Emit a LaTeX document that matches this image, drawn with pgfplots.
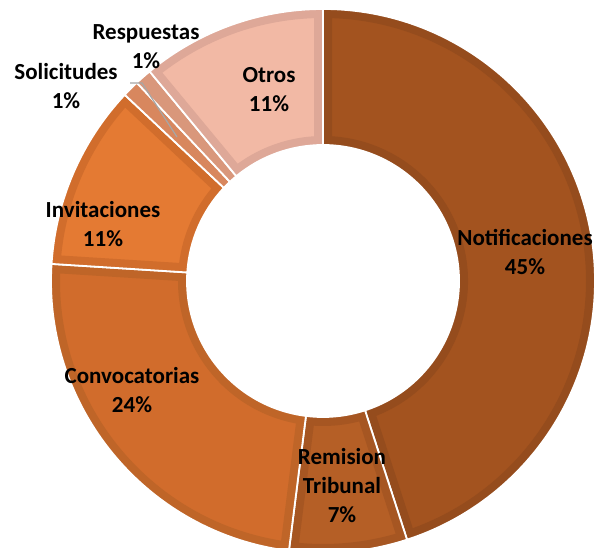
\documentclass[border=0pt]{standalone}
\usepackage{pgfplots}
\pgfplotsset{compat=1.18}
\usepackage{pgfplotstable}
\usepackage{fontspec}
\setmainfont{Carlito}

\definecolor{f0}{HTML}{A3531F} \definecolor{b0}{HTML}{954C1D}
\definecolor{f1}{HTML}{B55F26} \definecolor{b1}{HTML}{A65622}
\definecolor{f2}{HTML}{D16C2C} \definecolor{b2}{HTML}{BF6528}
\definecolor{f3}{HTML}{E47A33} \definecolor{b3}{HTML}{D16D2C}
\definecolor{f4}{HTML}{E08D60} \definecolor{b4}{HTML}{D8875E}
\definecolor{f5}{HTML}{E9A189} \definecolor{b5}{HTML}{D9977B}
\definecolor{f6}{HTML}{F2B9A5} \definecolor{b6}{HTML}{DEA898}

\pgfplotstableread{
label value
Notificaciones 45
Remision 7
Convocatorias 24
Invitaciones 11
Solicitudes 1
Respuestas 1
Otros 11
}\datatable

\def\cx{323}\def\cy{267}\def\Ro{272}\def\Ri{136}
\tikzset{slicepath/.style={insert path={([shift={(\sa:\Ro pt)}]C) arc[start angle=\sa,end angle=\ea,radius=\Ro pt] -- ([shift={(\ea:\Ri pt)}]C) arc[start angle=\ea,end angle=\sa,radius=\Ri pt] -- cycle}}}
\tikzset{lab/.style={align=center,font=\bfseries\fontsize{23}{29}\selectfont,text=black}}

\begin{document}
\begin{tikzpicture}
\begin{axis}[x=1pt,y=1pt,xmin=0,xmax=608,ymin=0,ymax=548,hide axis,clip=true]
\pgfplotsextra{
  \coordinate (C) at (axis cs:\cx,\cy);
  \gdef\cum{0}
  \pgfplotstableforeachcolumnelement{value}\of\datatable\as\v{%
    \pgfmathsetmacro\sa{90-3.6*\cum}%
    \pgfmathsetmacro\ea{90-3.6*(\cum+\v)}%
    \begin{scope}
      \clip[slicepath];
      \fill[fill=f\pgfplotstablerow,slicepath];
      \draw[draw=b\pgfplotstablerow,line width=18pt,slicepath];
    \end{scope}
    \draw[white,line width=1.8pt,slicepath];
    \pgfmathsetmacro\newcum{\cum+\v}%
    \xdef\cum{\newcum}%
  }
  \draw[black!35,line width=1.2pt] (axis cs:130,465) -- (axis cs:142,465) -- (axis cs:177,411);
}
\node[lab] at (axis cs:525,296) {Notificaciones\\45\%};
\node[lab] at (axis cs:342,62) {Remision\\Tribunal\\7\%};
\node[lab] at (axis cs:132,158) {Convocatorias\\24\%};
\node[lab] at (axis cs:103,324) {Invitaciones\\11\%};
\node[lab] at (axis cs:66,462) {Solicitudes\\1\%};
\node[lab] at (axis cs:146,501) {Respuestas\\1\%};
\node[lab] at (axis cs:269,458) {Otros\\11\%};
\end{axis}
\pgfresetboundingbox
\path (current axis.south west) rectangle (current axis.north east);
\end{tikzpicture}
\end{document}
